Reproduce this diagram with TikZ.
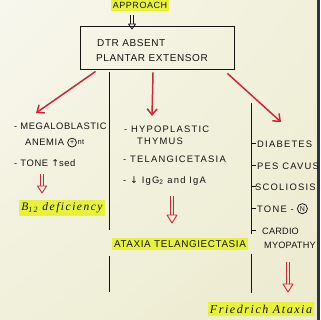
\documentclass[tikz,border=0pt]{standalone}
\usepackage{fontspec}
\usetikzlibrary{arrows.meta,calc,shadings}
\setmainfont{Liberation Sans}
\newfontfamily\hand[LetterSpace=6]{Liberation Sans}
\newfontfamily\handw[LetterSpace=13]{Liberation Sans}
\newfontfamily\handn[LetterSpace=2]{Liberation Sans}
\newfontfamily\sym{DejaVu Sans}
\newfontfamily\cursive[LetterSpace=13]{Liberation Serif}
\definecolor{paperA}{HTML}{F8F7EE}
\definecolor{paperB}{HTML}{F1F0DA}
\definecolor{paperC}{HTML}{ECEBCF}
\definecolor{edge}{HTML}{2C3344}
\definecolor{ink}{HTML}{141414}
\definecolor{redink}{HTML}{CF2637}
\definecolor{hly}{HTML}{E8F23C}
\newcommand\hollowarr[6]{%
  \draw[#1] ($(#2)+(-#4,0)$) -- ($(#3)+(-#4,-#6)$);
  \draw[#1] ($(#2)+(#4,0)$) -- ($(#3)+(#4,-#6)$);
  \draw[#1,line join=round] ($(#3)+(-#5,-#6)$) -- ($(#3)+(#5,-#6)$) -- (#3) -- cycle;}
\begin{document}
\begin{tikzpicture}[x=1pt,y=-1pt,
  every node/.style={text=ink, inner sep=0pt},
  item/.style={anchor=base west, font=\hand\fontsize{9.4}{10}\selectfont},
  itemw/.style={anchor=base west, font=\handw\fontsize{9.4}{10}\selectfont},
  itemn/.style={anchor=base west, font=\handn\fontsize{9.2}{10}\selectfont},
  boxtxt/.style={anchor=base west, font=\hand\fontsize{10}{11}\selectfont},
  hl/.style={fill=hly, inner xsep=2pt, inner ysep=2.5pt},
  circ/.style={draw=ink, circle, line width=0.75pt, inner sep=1.1pt, font=\hand\fontsize{7}{7}\selectfont, anchor=west},
  boxst/.style={draw=ink, line width=0.9pt, minimum width=154pt, minimum height=43pt},
  sep/.style={draw=ink, line width=0.8pt},
  redarr/.style={draw=redink, line width=1.5pt, -{Straight Barb[length=6pt,width=10pt]}},
  hred/.style={draw=redink, line width=0.9pt},
  hblack/.style={draw=ink, line width=0.8pt}]
\useasboundingbox (0,0) rectangle (320,320);
\shade[upper left=paperA, upper right=paperB, lower left=paperB, lower right=paperC] (0,0) rectangle (320,320);
\fill[edge] (317,0) rectangle (320,320);

% title and box
\node[hl, font=\hand\fontsize{9}{10}\selectfont] (appr) at (140,5) {APPROACH};
\node[boxst] (box) at (157,47.5) {};
\node[boxtxt] (dtr) at (97,47) {DTR ABSENT};
\node[boxtxt] (plan) at (96,62) {PLANTAR EXTENSOR};
\coordinate (a0s) at (132,15);
\coordinate (a0e) at (132,29);
\hollowarr{hblack}{a0s}{a0e}{1.3}{3.5}{5}

% red arrows
\coordinate (la) at (36,113);
\coordinate (ma) at (152,116);
\coordinate (ra) at (281,122);
\draw[redarr] ([xshift=16pt,yshift=-2pt]box.south west) -- (la);
\draw[redarr] ([xshift=-4pt,yshift=-3pt]box.south) -- (ma);
\draw[redarr] ([xshift=-7pt,yshift=-4pt]box.south east) -- (ra);

% separators
\draw[sep] (109,72) -- (109,230);
\draw[sep] (109,256) -- (109,292);
\draw[sep] (251,103) -- (251,234);
\draw[sep] (251,254) -- (251,293);
\foreach \yy in {143,165,186,208,230} \draw[sep] (251,\yy) -- (256,\yy);

% left column
\node[item] (l1) at (14,130) {- MEGALOBLASTIC};
\node[item] (l2) at (25,146) {ANEMIA};
\node[circ] (l2c) at ([xshift=3pt,yshift=3.4pt]l2.base east) {+};
\node[anchor=base west, font=\hand\fontsize{7.5}{8}\selectfont] (l2t) at ([xshift=0.5pt]l2.base -| l2c.east) {\raisebox{1pt}{nt}};
\node[item] (l3) at (14,166) {- TONE {\sym ↑}sed};
\node[hl, font=\cursive\itshape\fontsize{11.5}{12}\selectfont] (b12) at (62,208) {B\textsubscript{12} deficiency};
\coordinate (a1s) at (42,174);
\coordinate (a1e) at (42,193);
\hollowarr{hred}{a1s}{a1e}{1.7}{4.5}{7}

% middle column
\node[itemw] (m1) at (124,132) {- HYPOPLASTIC};
\node[itemw] (m2) at (137,144) {THYMUS};
\node[itemw] (m3) at (123,162) {- TELANGICETASIA};
\node[itemw] (m4) at (123,183) {- {\sym ↓} IgG\textsubscript{2} and IgA};
\node[hl, font=\hand\fontsize{9.9}{10}\selectfont] (at) at (180,244) {ATAXIA TELANGIECTASIA};
\coordinate (a2s) at (172,196);
\coordinate (a2e) at (172,223);
\hollowarr{hred}{a2s}{a2e}{1.9}{5}{8}

% right column
\node[itemw] (r1) at (257,147) {DIABETES};
\node[itemw] (r2) at (257,169) {PES CAVUS};
\node[itemw] (r3) at (255,190) {SCOLIOSIS};
\node[itemw] (r4) at (257,212) {TONE -};
\node[circ] (r4n) at ([xshift=3pt,yshift=3.3pt]r4.base east) {N};
\node[itemn] (r5) at (262,234) {CARDIO};
\node[itemn] (r6) at (264,248) {MYOPATHY};
\node[hl, font=\cursive\itshape\fontsize{12}{13}\selectfont] (fa) at (261,309) {Friedrich Ataxia};
\coordinate (a3s) at (288,262);
\coordinate (a3e) at (288,292);
\hollowarr{hred}{a3s}{a3e}{1.9}{5}{8}
\end{tikzpicture}
\end{document}
